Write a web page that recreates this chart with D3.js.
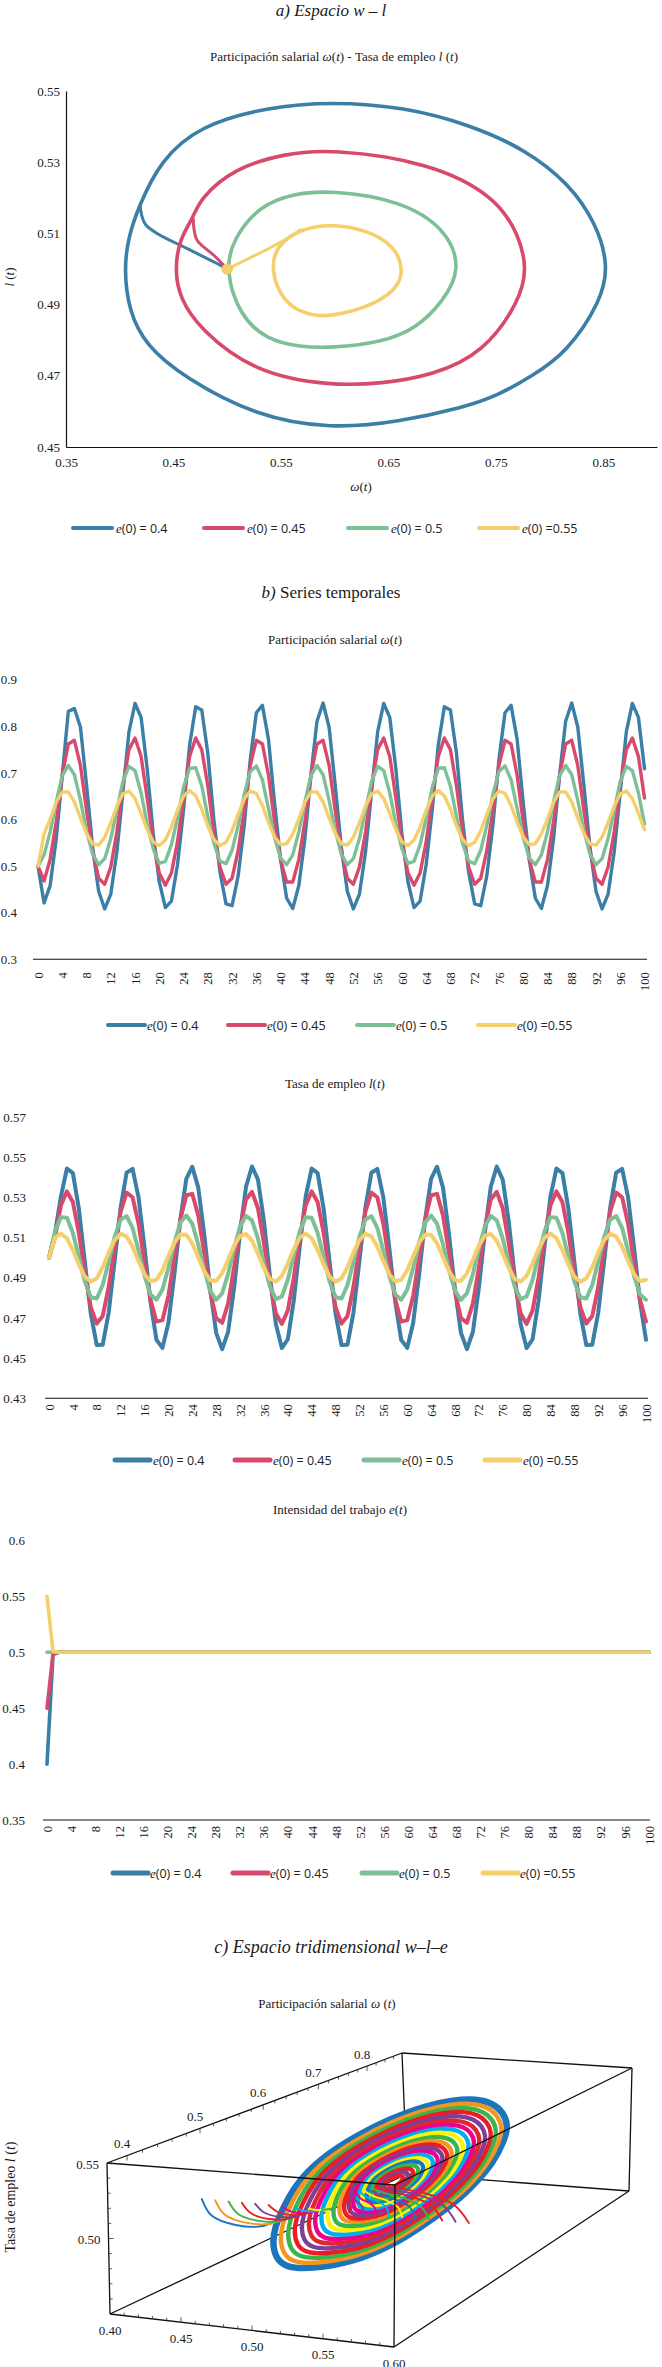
<!DOCTYPE html>
<html>
<head>
<meta charset="utf-8">
<script src="https://cdn.jsdelivr.net/npm/d3@7/dist/d3.min.js"></script>
<style>
html,body{margin:0;padding:0;background:#fff;}
svg{display:block;}
text{font-family:"Liberation Serif","Times New Roman",serif;fill:#1a1a1a;}
</style>
</head>
<body>
<svg id="chart" width="662" height="2367"></svg>
<script>
// ================= DATA =================
const seriesLegendRest = ["(0) = 0.4","(0) = 0.45","(0) = 0.5","(0) =0.55"];
const seriesColors = ["#3b7ea6","#d84a6b","#7dbf97","#f5cf6c"];

// categories (time)
const timeSteps = [0,1,2,3,4,5,6,7,8,9,10,11,12,13,14,15,16,17,18,19,20,21,22,23,24,25,26,27,28,29,30,31,32,33,34,35,36,37,38,39,40,41,42,43,44,45,46,47,48,49,50,51,52,53,54,55,56,57,58,59,60,61,62,63,64,65,66,67,68,69,70,71,72,73,74,75,76,77,78,79,80,81,82,83,84,85,86,87,88,89,90,91,92,93,94,95,96,97,98,99,100];
const timeTickLabels = [0,4,8,12,16,20,24,28,32,36,40,44,48,52,56,60,64,68,72,76,80,84,88,92,96,100];

// wage share w(t)
const omegaBlue = [
0.500,0.421,0.458,0.558,0.695,0.832,0.838,0.798,0.674,0.541,0.446,0.408,0.440,0.530,0.659,0.788,0.849,0.819,0.709,0.569,0.466,0.411,0.425,0.503,0.621,0.760,0.842,0.835,0.742,0.599,0.488,0.419,0.415,0.479,0.587,0.729,0.829,0.845,0.772,0.636,0.514,
0.431,0.409,0.458,0.558,0.695,0.811,0.850,0.798,0.674,0.541,0.446,0.408,0.440,0.530,0.659,0.788,0.849,0.819,0.709,0.569,0.466,0.411,0.425,0.503,0.621,0.760,0.842,0.835,0.742,0.599,0.488,0.419,0.415,0.479,0.587,0.729,0.829,0.845,0.772,0.636,0.514,
0.431,0.409,0.458,0.558,0.695,0.811,0.850,0.798,0.674,0.541,0.446,0.408,0.440,0.530,0.659,0.788,0.849,0.819,0.709];
const omegaRed = [
0.500,0.468,0.514,0.595,0.695,0.762,0.770,0.716,0.620,0.533,0.474,0.461,0.498,0.573,0.672,0.750,0.775,0.735,0.646,0.552,0.485,0.459,0.485,0.552,0.646,0.735,0.775,0.750,0.672,0.573,0.498,0.461,0.474,0.533,0.620,0.716,0.770,0.762,0.695,0.595,0.514,
0.466,0.466,0.514,0.595,0.695,0.762,0.770,0.716,0.620,0.533,0.474,0.461,0.498,0.573,0.672,0.750,0.775,0.735,0.646,0.552,0.485,0.459,0.485,0.552,0.646,0.735,0.775,0.750,0.672,0.573,0.498,0.461,0.474,0.533,0.620,0.716,0.770,0.762,0.695,0.595,0.514,
0.466,0.466,0.514,0.595,0.695,0.762,0.770,0.716,0.620,0.533,0.474,0.461,0.498,0.573,0.672,0.750,0.775,0.735,0.646];
const omegaGreen = [
0.500,0.524,0.573,0.638,0.694,0.716,0.696,0.641,0.576,0.526,0.503,0.516,0.559,0.620,0.682,0.714,0.705,0.657,0.590,0.537,0.506,0.510,0.546,0.603,0.669,0.710,0.711,0.672,0.606,0.549,0.511,0.505,0.534,0.587,0.654,0.703,0.715,0.685,0.624,0.562,0.517,
0.503,0.524,0.573,0.638,0.694,0.716,0.696,0.641,0.576,0.526,0.503,0.516,0.559,0.620,0.682,0.714,0.705,0.657,0.590,0.537,0.506,0.510,0.546,0.603,0.669,0.710,0.711,0.672,0.606,0.549,0.511,0.505,0.534,0.587,0.654,0.703,0.715,0.685,0.624,0.562,0.517,
0.503,0.524,0.573,0.638,0.694,0.716,0.696,0.641,0.576,0.526,0.503,0.516,0.559,0.620,0.682,0.714,0.705,0.657,0.590];
const omegaYellow = [
0.500,0.569,0.601,0.637,0.659,0.659,0.638,0.603,0.570,0.548,0.545,0.562,0.593,0.629,0.655,0.661,0.645,0.613,0.578,0.552,0.544,0.556,0.584,0.620,0.650,0.662,0.651,0.622,0.586,0.557,0.544,0.551,0.576,0.611,0.644,0.661,0.656,0.630,0.594,0.563,0.546,
0.548,0.569,0.601,0.637,0.659,0.659,0.638,0.603,0.570,0.548,0.545,0.562,0.593,0.629,0.655,0.661,0.645,0.613,0.578,0.552,0.544,0.556,0.584,0.620,0.650,0.662,0.651,0.622,0.586,0.557,0.544,0.551,0.576,0.611,0.644,0.661,0.656,0.630,0.594,0.563,0.546,
0.548,0.569,0.601,0.637,0.659,0.659,0.638,0.603,0.570,0.548,0.545,0.562,0.593,0.629,0.655,0.661,0.645,0.613,0.578];

// employment rate l(t)
const emplBlue = [
0.5000,0.5120,0.5305,0.5444,0.5421,0.5244,0.4979,0.4721,0.4565,0.4567,0.4727,0.4986,0.5250,0.5423,0.5442,0.5300,0.5049,0.4780,0.4591,0.4551,0.4675,0.4917,0.5189,0.5393,0.5453,0.5349,0.5117,0.4843,0.4626,0.4545,0.4630,0.4849,0.5124,0.5353,0.5454,0.5389,0.5183,0.4910,0.4670,0.4550,0.4594,
0.4786,0.5056,0.5305,0.5444,0.5421,0.5244,0.4979,0.4721,0.4565,0.4567,0.4727,0.4986,0.5250,0.5423,0.5442,0.5300,0.5049,0.4780,0.4591,0.4551,0.4675,0.4917,0.5189,0.5393,0.5453,0.5349,0.5117,0.4843,0.4626,0.4545,0.4630,0.4849,0.5124,0.5353,0.5454,0.5389,0.5183,0.4910,0.4670,0.4550,0.4594,
0.4786,0.5056,0.5305,0.5444,0.5421,0.5244,0.4979,0.4721,0.4565,0.4567,0.4727,0.4986,0.5250,0.5423,0.5442,0.5300,0.5049,0.4780,0.4591];
const emplRed = [
0.5000,0.5100,0.5262,0.5330,0.5277,0.5123,0.4925,0.4754,0.4672,0.4710,0.4854,0.5050,0.5229,0.5324,0.5301,0.5169,0.4975,0.4790,0.4682,0.4689,0.4810,0.5000,0.5190,0.5311,0.5318,0.5210,0.5025,0.4831,0.4699,0.4676,0.4771,0.4950,0.5146,0.5290,0.5328,0.5246,0.5075,0.4877,0.4723,0.4670,0.4738,
0.4900,0.5100,0.5262,0.5330,0.5277,0.5123,0.4925,0.4754,0.4672,0.4710,0.4854,0.5050,0.5229,0.5324,0.5301,0.5169,0.4975,0.4790,0.4682,0.4689,0.4810,0.5000,0.5190,0.5311,0.5318,0.5210,0.5025,0.4831,0.4699,0.4676,0.4771,0.4950,0.5146,0.5290,0.5328,0.5246,0.5075,0.4877,0.4723,0.4670,0.4738,
0.4900,0.5100,0.5262,0.5330,0.5277,0.5123,0.4925,0.4754,0.4672,0.4710,0.4854,0.5050,0.5229,0.5324,0.5301,0.5169,0.4975,0.4790,0.4682];
const emplGreen = [
0.5000,0.5131,0.5202,0.5199,0.5123,0.5003,0.4882,0.4803,0.4797,0.4864,0.4981,0.5105,0.5190,0.5207,0.5148,0.5035,0.4910,0.4817,0.4791,0.4841,0.4949,0.5075,0.5174,0.5210,0.5169,0.5066,0.4940,0.4835,0.4790,0.4822,0.4919,0.5045,0.5155,0.5208,0.5186,0.5096,0.4971,0.4857,0.4794,0.4807,0.4890,
0.5013,0.5131,0.5202,0.5199,0.5123,0.5003,0.4882,0.4803,0.4797,0.4864,0.4981,0.5105,0.5190,0.5207,0.5148,0.5035,0.4910,0.4817,0.4791,0.4841,0.4949,0.5075,0.5174,0.5210,0.5169,0.5066,0.4940,0.4835,0.4790,0.4822,0.4919,0.5045,0.5155,0.5208,0.5186,0.5096,0.4971,0.4857,0.4794,0.4807,0.4890,
0.5013,0.5131,0.5202,0.5199,0.5123,0.5003,0.4882,0.4803,0.4797,0.4864,0.4981,0.5105,0.5190,0.5207,0.5148,0.5035,0.4910,0.4817,0.4791];
const emplYellow = [
0.5000,0.5100,0.5120,0.5097,0.5038,0.4966,0.4906,0.4880,0.4898,0.4953,0.5026,0.5088,0.5119,0.5106,0.5055,0.4984,0.4918,0.4883,0.4890,0.4937,0.5007,0.5075,0.5115,0.5114,0.5071,0.5002,0.4932,0.4888,0.4884,0.4922,0.4989,0.5060,0.5109,0.5118,0.5085,0.5020,0.4948,0.4895,0.4881,0.4909,0.4971,
0.5043,0.5100,0.5120,0.5097,0.5038,0.4966,0.4906,0.4880,0.4898,0.4953,0.5026,0.5088,0.5119,0.5106,0.5055,0.4984,0.4918,0.4883,0.4890,0.4937,0.5007,0.5075,0.5115,0.5114,0.5071,0.5002,0.4932,0.4888,0.4884,0.4922,0.4989,0.5060,0.5109,0.5118,0.5085,0.5020,0.4948,0.4895,0.4881,0.4909,0.4971,
0.5043,0.5100,0.5120,0.5097,0.5038,0.4966,0.4906,0.4880,0.4898,0.4953,0.5026,0.5088,0.5119,0.5106,0.5055,0.4984,0.4918,0.4883,0.4890];

// work intensity e(t)
const effortBlue = [0.400,0.498,
0.5,0.5,0.5,0.5,0.5,0.5,0.5,0.5,0.5,0.5,0.5,
0.5,0.5,0.5,0.5,0.5,0.5,0.5,0.5,0.5,0.5,0.5,
0.5,0.5,0.5,0.5,0.5,0.5,0.5,0.5,0.5,0.5,0.5,
0.5,0.5,0.5,0.5,0.5,0.5,0.5,0.5,0.5,0.5,0.5,
0.5,0.5,0.5,0.5,0.5,0.5,0.5,0.5,0.5,0.5,0.5,
0.5,0.5,0.5,0.5,0.5,0.5,0.5,0.5,0.5,0.5,0.5,
0.5,0.5,0.5,0.5,0.5,0.5,0.5,0.5,0.5,0.5,0.5,
0.5,0.5,0.5,0.5,0.5,0.5,0.5,0.5,0.5,0.5,0.5,
0.5,0.5,0.5,0.5,0.5,0.5,0.5,0.5,0.5,0.5,0.5];
const effortRed = [0.450,0.499,
0.5,0.5,0.5,0.5,0.5,0.5,0.5,0.5,0.5,0.5,0.5,
0.5,0.5,0.5,0.5,0.5,0.5,0.5,0.5,0.5,0.5,0.5,
0.5,0.5,0.5,0.5,0.5,0.5,0.5,0.5,0.5,0.5,0.5,
0.5,0.5,0.5,0.5,0.5,0.5,0.5,0.5,0.5,0.5,0.5,
0.5,0.5,0.5,0.5,0.5,0.5,0.5,0.5,0.5,0.5,0.5,
0.5,0.5,0.5,0.5,0.5,0.5,0.5,0.5,0.5,0.5,0.5,
0.5,0.5,0.5,0.5,0.5,0.5,0.5,0.5,0.5,0.5,0.5,
0.5,0.5,0.5,0.5,0.5,0.5,0.5,0.5,0.5,0.5,0.5,
0.5,0.5,0.5,0.5,0.5,0.5,0.5,0.5,0.5,0.5,0.5];
const effortGreen = [0.500,0.500,
0.5,0.5,0.5,0.5,0.5,0.5,0.5,0.5,0.5,0.5,0.5,
0.5,0.5,0.5,0.5,0.5,0.5,0.5,0.5,0.5,0.5,0.5,
0.5,0.5,0.5,0.5,0.5,0.5,0.5,0.5,0.5,0.5,0.5,
0.5,0.5,0.5,0.5,0.5,0.5,0.5,0.5,0.5,0.5,0.5,
0.5,0.5,0.5,0.5,0.5,0.5,0.5,0.5,0.5,0.5,0.5,
0.5,0.5,0.5,0.5,0.5,0.5,0.5,0.5,0.5,0.5,0.5,
0.5,0.5,0.5,0.5,0.5,0.5,0.5,0.5,0.5,0.5,0.5,
0.5,0.5,0.5,0.5,0.5,0.5,0.5,0.5,0.5,0.5,0.5,
0.5,0.5,0.5,0.5,0.5,0.5,0.5,0.5,0.5,0.5,0.5];
const effortYellow = [0.550,0.501,
0.5,0.5,0.5,0.5,0.5,0.5,0.5,0.5,0.5,0.5,0.5,
0.5,0.5,0.5,0.5,0.5,0.5,0.5,0.5,0.5,0.5,0.5,
0.5,0.5,0.5,0.5,0.5,0.5,0.5,0.5,0.5,0.5,0.5,
0.5,0.5,0.5,0.5,0.5,0.5,0.5,0.5,0.5,0.5,0.5,
0.5,0.5,0.5,0.5,0.5,0.5,0.5,0.5,0.5,0.5,0.5,
0.5,0.5,0.5,0.5,0.5,0.5,0.5,0.5,0.5,0.5,0.5,
0.5,0.5,0.5,0.5,0.5,0.5,0.5,0.5,0.5,0.5,0.5,
0.5,0.5,0.5,0.5,0.5,0.5,0.5,0.5,0.5,0.5,0.5,
0.5,0.5,0.5,0.5,0.5,0.5,0.5,0.5,0.5,0.5,0.5];

// tick labels
const omegaTicks = [0.3,0.4,0.5,0.6,0.7,0.8,0.9];
const emplTicks = [0.43,0.45,0.47,0.49,0.51,0.53,0.55,0.57];
const effortTicks = [0.35,0.4,0.45,0.5,0.55,0.6];
const phaseXTicks = [0.35,0.45,0.55,0.65,0.75,0.85];
const phaseYTicks = [0.45,0.47,0.49,0.51,0.53,0.55];

// phase space orbits [w, l]
const orbitBlue = [[0.404,0.5000],[0.408,0.5090],[0.4180,0.5178],[0.438,0.5305],[0.4745,0.5403],[0.5375,0.5455],[0.597,0.5470],[0.665,0.5455],[0.726,0.5405],[0.7780,0.5335],[0.8180,0.5240],[0.8435,0.5128],[0.855,0.5010],[0.848,0.4910],[0.816,0.4765],[0.784,0.4700],[0.752,0.4645],[0.721,0.4612],[0.659,0.4570],[0.597,0.4551],[0.528,0.4585],[0.460,0.4695],[0.424,0.4786],[0.4084,0.4883]];
const orbitRed = [[0.4512,0.4996],[0.4555,0.5083],[0.4680,0.5141],[0.4745,0.5197],[0.5060,0.5282],[0.553,0.5324],[0.597,0.5337],[0.688,0.5300],[0.750,0.5204],[0.772,0.5092],[0.779,0.5000],[0.772,0.4910],[0.739,0.4765],[0.691,0.4701],[0.644,0.4678],[0.597,0.4672],[0.527,0.4706],[0.4740,0.4832],[0.456,0.4918]];
const orbitGreen = [[0.4985,0.4995],[0.5050,0.5083],[0.5305,0.5179],[0.5620,0.5212],[0.597,0.5221],[0.661,0.5193],[0.704,0.5113],[0.718,0.5000],[0.701,0.4909],[0.6756,0.4832],[0.6440,0.4794],[0.597,0.4778],[0.5680,0.4781],[0.5365,0.4801],[0.5113,0.4871]];
const orbitYellow = [[0.5405,0.4996],[0.5455,0.5065],[0.5680,0.5113],[0.597,0.5127],[0.632,0.5108],[0.656,0.5063],[0.664,0.5000],[0.659,0.4948],[0.6385,0.4901],[0.597,0.4865],[0.5740,0.4870],[0.5518,0.4908]];
const transBlue = [[0.5,0.5],[0.494,0.5010],[0.463,0.5057],[0.4352,0.5099],[0.4240,0.5125],[0.4205,0.5150],[0.4190,0.5178]];
const transRed = [[0.5,0.5],[0.497,0.5010],[0.4878,0.5038],[0.4722,0.5080],[0.4690,0.5115],[0.4685,0.5140]];
const transYellow = [[0.5,0.5],[0.535,0.5052],[0.5621,0.5096],[0.5675,0.5110]];
const startPoint = [0.5,0.5];

// 3D space: trajectories for many initial e(0)
const ringE0 = [0.40,0.41,0.42,0.43,0.44,0.45,0.46,0.47,0.48,0.49,0.50,0.51,0.52,0.53,0.54,0.55,0.56,0.57,0.58,0.59,0.60];
const ringScale = [1.00,0.945,0.89,0.84,0.785,0.73,0.68,0.63,0.58,0.53,0.48,0.44,0.40,0.36,0.32,0.28,0.24,0.20,0.16,0.12,0.08];
const ringColors = ["#1b75bc","#f7941d","#39b54a","#ed1c24","#7f3f98","#e0262f","#ec008c","#00aeef","#fff200","#39b54a","#f7941d","#ed1c24","#7f3f98","#ec008c","#00aeef","#fff200","#1b75bc","#39b54a","#ed1c24","#7f3f98","#ed1c24"];
const orbitCenter = [0.60,0.50];
const transTplE = [0,0.30,0.60,0.85,0.95,0.99,1];
const transTplW = [0,0.55,0.85,0.96,0.99,1,1];
const transTplL = [0,0.02,0.10,0.30,0.60,0.85,1];
const box3dWTicks = [0.4,0.5,0.6,0.7,0.8];
const box3dETicks = [0.40,0.45,0.50,0.55,0.60];
const box3dLTicks = [0.50,0.55];

// ================= DRAW =================
const svg = d3.select("#chart");
const SERIF = "Liberation Serif";

function addText(x, y, parts, size, anchor, extra){
  const t = svg.append("text").attr("x",x).attr("y",y).attr("font-size",size).attr("text-anchor",anchor||"middle");
  parts.forEach(p=>{
    const s = t.append("tspan").text(p[0]);
    if(p[1]) s.attr("font-style","italic");
    if(p[2]) s.attr("font-family",p[2]);
  });
  if(extra) extra(t);
  return t;
}

function drawLegend(yc, xs, lineLen, textOff, lw){
  seriesLegendRest.forEach((rest,i)=>{
    svg.append("line").attr("x1",xs[i]).attr("x2",xs[i]+lineLen).attr("y1",yc).attr("y2",yc)
      .attr("stroke",seriesColors[i]).attr("stroke-width",lw).attr("stroke-linecap","round");
    const t = svg.append("text").attr("x",xs[i]+textOff).attr("y",yc).attr("dy","0.36em").attr("font-size",13);
    t.append("tspan").attr("font-style","italic").text("e");
    t.append("tspan").attr("font-family","Open Sans").attr("font-size",12.5).attr("fill","#222").text(rest);
  });
}

// ---------- a) phase space ----------
addText(331,16,[["a) Espacio ",1],["w",1],[" – ",1],["l",1]],17);
addText(334,61,[["Participación salarial  "],["ω",1],["("],["t",1],[") - Tasa de empleo "],["l",1],[" ("],["t",1],[")"]],13);

const px = d3.scaleLinear().domain([0.35,0.90]).range([66,657]);
const py = d3.scaleLinear().domain([0.45,0.55]).range([447,91]);
const gA = svg.append("g");
gA.append("g").attr("transform","translate(66,0)")
  .call(d3.axisLeft(py).tickValues(phaseYTicks).tickSize(0).tickSizeOuter(0).tickPadding(6).tickFormat(d3.format(".2f")))
  .attr("font-family",SERIF).attr("font-size",13).style("color","#111");
gA.append("g").attr("transform","translate(0,447)")
  .call(d3.axisBottom(px).tickValues(phaseXTicks).tickSize(0).tickSizeOuter(0).tickPadding(11).tickFormat(d3.format(".2f")))
  .attr("font-family",SERIF).attr("font-size",13).style("color","#111");
gA.selectAll(".domain").attr("stroke-width",1.2);
addText(361,491,[["ω",1],["("],["t",1],[")"]],13);
addText(0,0,[["l",1],[" ("],["t",1],[")"]],13,"middle",t=>t.attr("transform","translate(14,277) rotate(-90)"));

const closedLine = d3.line().x(d=>px(d[0])).y(d=>py(d[1])).curve(d3.curveBasisClosed);
const openLine = d3.line().x(d=>px(d[0])).y(d=>py(d[1])).curve(d3.curveCatmullRom.alpha(0.5));
const phaseSets = [[orbitBlue,transBlue],[orbitRed,transRed],[orbitGreen,null],[orbitYellow,transYellow]];
phaseSets.forEach((s,i)=>{
  gA.append("path").attr("d",closedLine(s[0])).attr("fill","none").attr("stroke",seriesColors[i]).attr("stroke-width",3.6);
  if(s[1]) gA.append("path").attr("d",openLine(s[1])).attr("fill","none").attr("stroke",seriesColors[i]).attr("stroke-width",3.0).attr("stroke-linecap","round");
});
gA.append("circle").attr("cx",px(startPoint[0])).attr("cy",py(startPoint[1])).attr("r",5.2)
  .attr("fill","#f5cf6c").attr("stroke","#efc45a").attr("stroke-width",1);
drawLegend(528,[73,204,348,479],39,43,4);

// ---------- b) time series ----------
addText(331,598,[["b)",1],[" Series temporales"]],17);

function drawSeriesChart(cfg){
  const x = d3.scaleLinear().domain([0,100]).range([cfg.x0,cfg.x1]);
  const y = d3.scaleLinear().domain(cfg.yDomain).range(cfg.yRange);
  const g = svg.append("g");
  g.append("g").attr("transform",`translate(${cfg.labelRight},0)`)
    .call(d3.axisLeft(y).tickValues(cfg.yTicks).tickSize(0).tickPadding(0).tickFormat(cfg.fmt))
    .call(s=>s.select(".domain").remove())
    .attr("font-family",SERIF).attr("font-size",13).style("color","#1a1a1a");
  const gx = g.append("g").attr("transform",`translate(0,${cfg.axisY})`)
    .call(d3.axisBottom(x).tickValues(timeTickLabels).tickSize(0).tickFormat(d3.format("d")))
    .attr("font-family",SERIF).attr("font-size",12.5).style("color","#1a1a1a");
  gx.select(".domain").remove();
  gx.selectAll("text").attr("transform","rotate(-90)").attr("text-anchor","end")
    .attr("x",-cfg.gap).attr("y",0).attr("dy","0.33em");
  g.append("line").attr("x1",cfg.axisX0).attr("x2",cfg.axisX1).attr("y1",cfg.axisY).attr("y2",cfg.axisY)
    .attr("stroke","#111").attr("stroke-width",1.1);
  const line = d3.line().x((d,i)=>x(timeSteps[i])).y(d=>y(d));
  cfg.series.forEach((arr,i)=>{
    g.append("path").attr("d",line(arr)).attr("fill","none").attr("stroke",seriesColors[i])
      .attr("stroke-width",cfg.sw).attr("stroke-linejoin","round").attr("stroke-linecap","round");
  });
}

addText(335,644,[["Participación salarial  "],["ω",1],["("],["t",1],[")"]],13);
drawSeriesChart({x0:38,x1:644.5,yDomain:[0.3,0.9],yRange:[959.3,679.7],yTicks:omegaTicks,fmt:d3.format(".1f"),
  labelRight:17,axisY:959.3,axisX0:33,axisX1:647,gap:13,sw:3.4,
  series:[omegaBlue,omegaRed,omegaGreen,omegaYellow]});
drawLegend(1025,[108,228,357,478],37,39,4);

addText(335,1088,[["Tasa de empleo "],["l",1],["("],["t",1],[")"]],13);
drawSeriesChart({x0:49,x1:646,yDomain:[0.43,0.57],yRange:[1398.3,1117.1],yTicks:emplTicks,fmt:d3.format(".2f"),
  labelRight:26,axisY:1398.3,axisX0:45,axisX1:648,gap:6,sw:4,
  series:[emplBlue,emplRed,emplGreen,emplYellow]});
drawLegend(1460,[115,235,364,485],35,38,5);

addText(340,1514,[["Intensidad del trabajo "],["e",1],["("],["t",1],[")"]],13);
drawSeriesChart({x0:47,x1:649,yDomain:[0.35,0.6],yRange:[1820,1540.5],yTicks:effortTicks,fmt:d3.format("~g"),
  labelRight:25,axisY:1820,axisX0:43,axisX1:650,gap:6,sw:3.6,
  series:[effortBlue,effortRed,effortGreen,effortYellow]});
drawLegend(1873,[113,233,362,483],35,37,5);

// ---------- c) 3D space ----------
addText(331,1953,[["c) Espacio tridimensional ",1],["w",1],["–",1],["l",1],["–",1],["e",1]],18);
addText(327,2008,[["Participación salarial  "],["ω",1],[" ("],["t",1],[")"]],13);
addText(0,0,[["Tasa de empleo "],["l",1],[" ("],["t",1],[")"]],14,"middle",t=>t.attr("transform","translate(15,2197) rotate(-90)"));

// projection of the box (screen corners, index order: e, w, l)
const cube = {"000":[110,2314],"001":[107,2163],"100":[394,2347],"101":[395,2185],
              "010":[407,2174],"011":[402,2053],"110":[629,2191],"111":[632,2068]};
const eS = d3.scaleLinear().domain([0.40,0.60]).range([0,1]);
const wS = d3.scaleLinear().domain([0.375,0.88]).range([0,1]);
const lS = d3.scaleLinear().domain([0.45,0.55]).range([0,1]);
const depth = u => u*1.4/(1+0.4*u);
function P(e,w,l){
  const X=eS(e), Y=depth(wS(w)), Z=lS(l);
  let sx=0, sy=0;
  for(const i of [0,1]) for(const j of [0,1]) for(const k of [0,1]){
    const wt=(i?X:1-X)*(j?Y:1-Y)*(k?Z:1-Z);
    const c=cube[""+i+j+k]; sx+=wt*c[0]; sy+=wt*c[1];
  }
  return [sx,sy];
}
const g3 = svg.append("g");
function edge(a,b,grp){
  const p=cube[a], q=cube[b];
  grp.append("line").attr("x1",p[0]).attr("y1",p[1]).attr("x2",q[0]).attr("y2",q[1])
    .attr("stroke","#111").attr("stroke-width",1.3);
}
// hidden / back edges first
[["010","011"],["010","110"],["000","010"]].forEach(e=>edge(e[0],e[1],g3));

const line3 = d3.line().curve(d3.curveBasisClosed);
const line3o = d3.line().curve(d3.curveCatmullRom.alpha(0.5));
const blueJoin = transBlue[transBlue.length-1];
ringE0.forEach((e0,i)=>{
  const s = ringScale[i];
  const pts = orbitBlue.map(d=>P(0.5, orbitCenter[0]+s*(d[0]-orbitCenter[0]), orbitCenter[1]+s*(d[1]-orbitCenter[1])));
  g3.append("path").attr("d",line3(pts)).attr("fill","none").attr("stroke",ringColors[i])
    .attr("stroke-width", i===0?6.5:4.4);
});
ringE0.forEach((e0,i)=>{
  if(Math.abs(e0-0.5)<1e-9) return;
  const s = ringScale[i];
  const jw = orbitCenter[0]+s*(blueJoin[0]-orbitCenter[0]);
  const jl = orbitCenter[1]+s*(blueJoin[1]-orbitCenter[1]);
  const pts = transTplE.map((fe,k)=>P(e0+(0.5-e0)*fe, startPoint[0]+(jw-startPoint[0])*transTplW[k], startPoint[1]+(jl-startPoint[1])*transTplL[k]));
  g3.append("path").attr("d",line3o(pts)).attr("fill","none").attr("stroke",ringColors[i])
    .attr("stroke-width",1.9).attr("stroke-linecap","round");
});
// front / visible edges
[["001","011"],["011","111"],["111","110"],["100","110"],["101","111"],["001","101"],["000","001"],["000","100"],["100","101"]]
  .forEach(e=>edge(e[0],e[1],g3));

// ticks on the box axes
const wMinor = [0.38,0.40,0.42,0.44,0.46,0.48,0.50,0.52,0.54,0.56,0.58,0.60,0.62,0.64,0.66,0.68,0.70,0.72,0.74,0.76,0.78,0.80,0.82,0.84,0.86];
wMinor.forEach(w=>{
  const p=P(0.40,w,0.55); const major = box3dWTicks.some(t=>Math.abs(t-w)<1e-6);
  g3.append("line").attr("x1",p[0]).attr("y1",p[1]).attr("x2",p[0]).attr("y2",p[1]+(major?5:3)).attr("stroke","#333").attr("stroke-width",0.8);
});
const eMinor = [0.41,0.42,0.43,0.44,0.45,0.46,0.47,0.48,0.49,0.50,0.51,0.52,0.53,0.54,0.55,0.56,0.57,0.58,0.59];
eMinor.forEach(e=>{
  const p=P(e,0.375,0.45); const major = box3dETicks.some(t=>Math.abs(t-e)<1e-6);
  g3.append("line").attr("x1",p[0]).attr("y1",p[1]).attr("x2",p[0]).attr("y2",p[1]-(major?5:3)).attr("stroke","#333").attr("stroke-width",0.8);
});
const lMinor = [0.46,0.47,0.48,0.49,0.50,0.51,0.52,0.53,0.54];
lMinor.forEach(l=>{
  const p=P(0.40,0.375,l); const major = Math.abs(l-0.5)<1e-6;
  g3.append("line").attr("x1",p[0]).attr("y1",p[1]).attr("x2",p[0]+(major?5:3)).attr("y2",p[1]).attr("stroke","#333").attr("stroke-width",0.8);
});
box3dWTicks.forEach(w=>{
  const p=P(0.40,w,0.55);
  g3.append("text").attr("x",p[0]-5).attr("y",p[1]-12).attr("dy","0.35em").attr("text-anchor","middle").attr("font-size",13).text(d3.format(".1f")(w));
});
box3dETicks.forEach(e=>{
  const p=P(e,0.375,0.45);
  g3.append("text").attr("x",p[0]).attr("y",p[1]+16).attr("dy","0.35em").attr("text-anchor","middle").attr("font-size",13).text(d3.format(".2f")(e));
});
box3dLTicks.forEach(l=>{
  const p=P(0.40,0.375,l);
  g3.append("text").attr("x",p[0]-8).attr("y",p[1]+1).attr("dy","0.35em").attr("text-anchor","end").attr("font-size",13).text(d3.format(".2f")(l));
});
</script>
</body>
</html>
